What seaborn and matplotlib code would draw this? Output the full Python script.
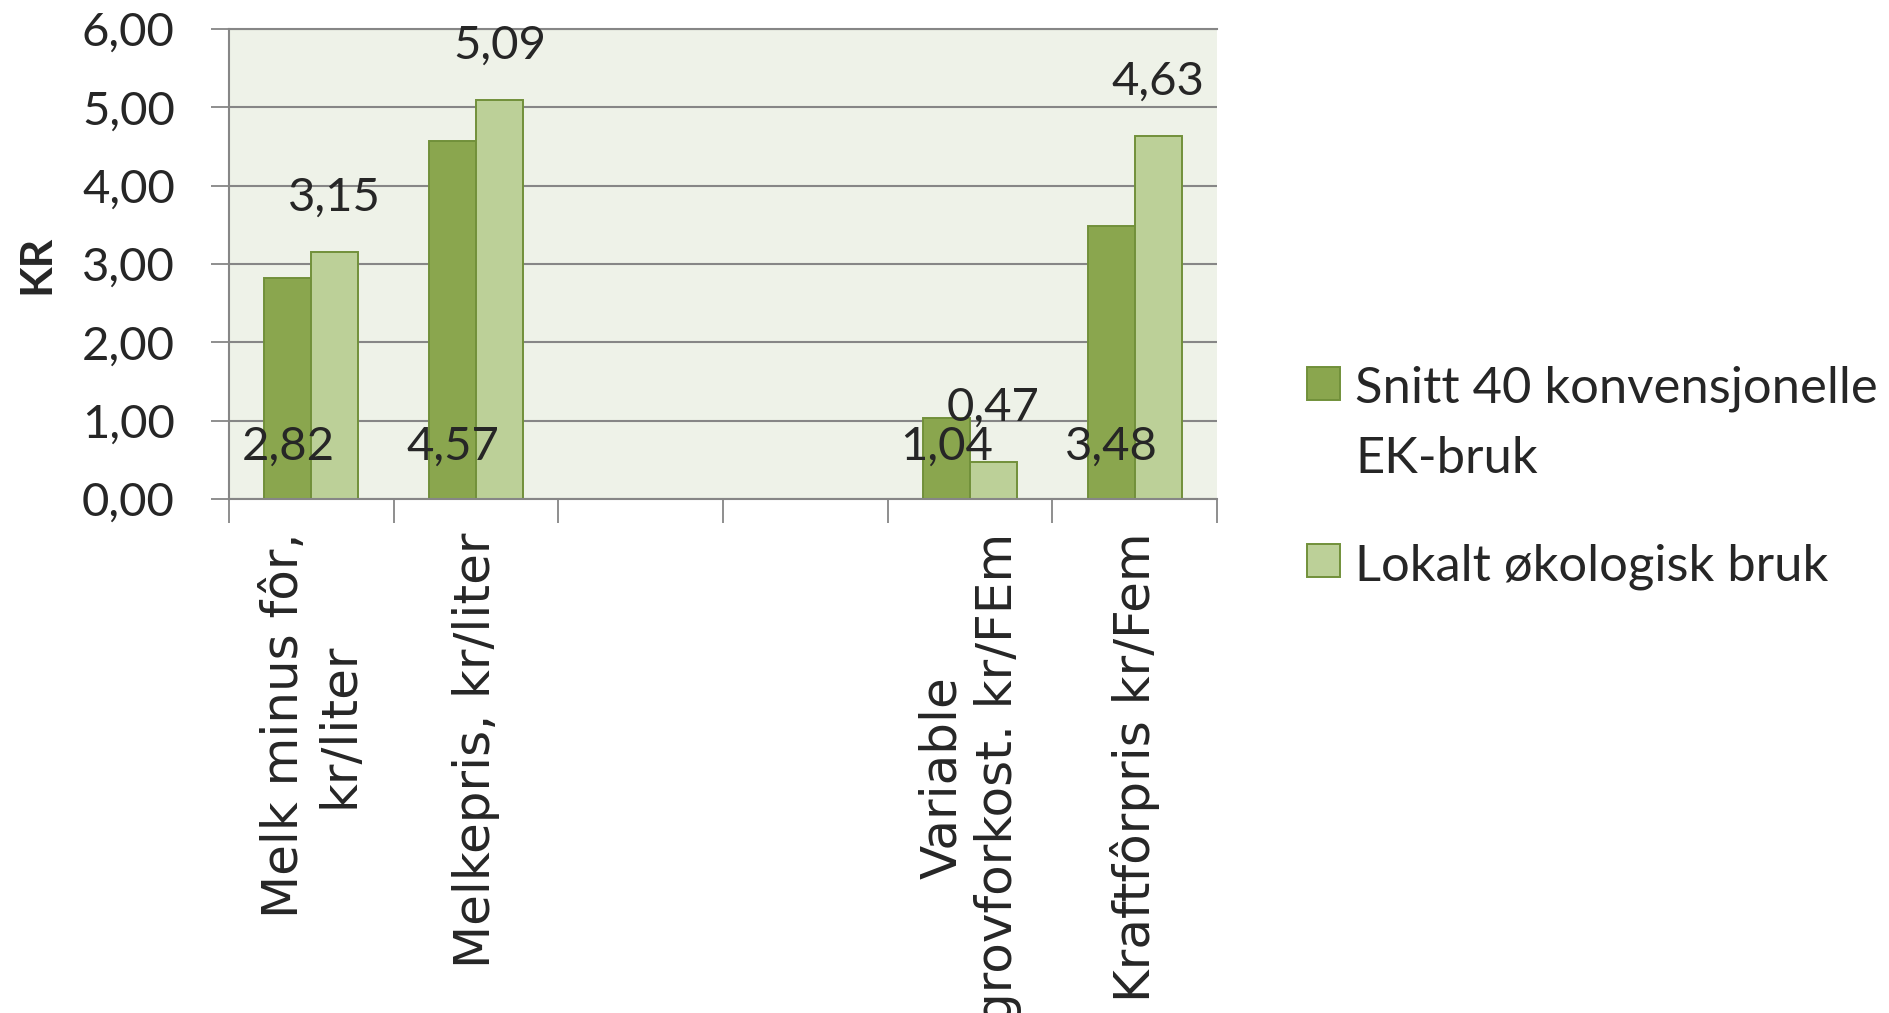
import numpy as np
import pandas as pd
import matplotlib
matplotlib.use("Agg")
import matplotlib.pyplot as plt
from matplotlib.ticker import FuncFormatter, FixedLocator
from matplotlib.patches import Rectangle
import seaborn as sns

# ─────────────────────────────────────────
# DATA
# ─────────────────────────────────────────
categories = [
    "Melk minus fôr,\nkr/liter",
    "Melkepris, kr/liter",
    "",
    " ",
    "Variable\ngrovforkost. kr/FEm",
    "Kraftfôrpris kr/Fem",
]
series = ["Snitt 40 konvensjonelle\nEK-bruk", "Lokalt økologisk bruk"]
konvensjonell = [2.82, 4.57, np.nan, np.nan, 1.04, 3.48]
okologisk = [3.15, 5.09, np.nan, np.nan, 0.47, 4.63]
y_ticks = [0, 1, 2, 3, 4, 5, 6]

df = pd.DataFrame({
    "kategori": categories * 2,
    "serie": [series[0]] * len(categories) + [series[1]] * len(categories),
    "kr": konvensjonell + okologisk,
})

# ─────────────────────────────────────────
# STYLE
# ─────────────────────────────────────────
sns.set_style("white")
plt.rcParams["font.family"] = ["Lato", "DejaVu Sans"]

dark = "#8AA64E"
light = "#BCD098"
edge = "#71903A"
grid = "#868686"
bg = "#EEF2E8"

W, H = 1890, 1013
fig = plt.figure(figsize=(W / 100, H / 100), dpi=100)
ax = fig.add_axes([229 / W, 1 - 499 / H, 988 / W, 470 / H])
ax.set_facecolor(bg)

sns.barplot(data=df, x="kategori", y="kr", hue="serie",
            order=categories, hue_order=series,
            palette=[dark, light], saturation=1, width=0.57,
            edgecolor=edge, linewidth=1.4, legend=False, ax=ax)

# ─────────────────────────────────────────
# AXES
# ─────────────────────────────────────────
ax.set_ylim(0, 6)
ax.set_xlim(-0.5, len(categories) - 0.5)
ax.set_yticks(y_ticks)
ax.yaxis.set_major_formatter(FuncFormatter(lambda v, p: f"{v:.2f}".replace(".", ",")))
ax.yaxis.grid(True, color=grid, linewidth=1.5)
ax.set_axisbelow(True)
ax.tick_params(axis="y", length=13, width=1.3, color=grid, pad=26,
               labelsize=34, left=True)

ax.set_xticks(range(len(categories)))
ax.set_xticklabels(categories, rotation=90, ha="center", va="top",
                   multialignment="center", fontsize=36)
ax.tick_params(axis="x", which="major", length=0, pad=24)
ax.xaxis.set_minor_locator(FixedLocator(np.arange(-0.5, len(categories), 1)))
ax.tick_params(axis="x", which="minor", length=17, width=1.3, color=grid,
               bottom=True)
ax.set_xlabel("")
ax.set_ylabel("")

for side in ["left", "bottom", "top"]:
    ax.spines[side].set_color(grid)
    ax.spines[side].set_linewidth(1.5)
ax.spines["right"].set_visible(False)

fig.text(36 / W, 1 - 264 / H, "KR", rotation=90, ha="center", va="center",
         fontsize=32, fontweight="bold")

# ─────────────────────────────────────────
# DATA LABELS
# ─────────────────────────────────────────
for i, cont in enumerate(ax.containers):
    for bar in cont:
        h = bar.get_height()
        if np.isnan(h):
            continue
        x = bar.get_x() + bar.get_width() / 2
        txt = f"{h:.2f}".replace(".", ",")
        if i == 0:
            ax.annotate(txt, (x, 0), xytext=(0, 28), textcoords="offset points",
                        ha="center", va="baseline", fontsize=34)
        else:
            ax.annotate(txt, (x, h), xytext=(0, 30), textcoords="offset points",
                        ha="center", va="baseline", fontsize=34,
                        annotation_clip=False)

# ─────────────────────────────────────────
# LEGEND (square aligned with first line of each entry)
# ─────────────────────────────────────────
line_pitch = 70
entry_top = [403, 580]
for label, color, base in zip(series, [dark, light], entry_top):
    fig.patches.append(Rectangle((1307 / W, 1 - (base - 3) / H), 33 / W, 33 / H,
                                 transform=fig.transFigure, facecolor=color,
                                 edgecolor=edge, linewidth=1.4))
    for k, line in enumerate(label.split("\n")):
        fig.text(1355 / W, 1 - (base + k * line_pitch) / H, line,
                 ha="left", va="baseline", fontsize=36.5)

# wide sans for the category labels
for lbl in ax.get_xticklabels():
    lbl.set_fontfamily(["DejaVu Sans"])

fig.savefig("out.png", dpi=100)
